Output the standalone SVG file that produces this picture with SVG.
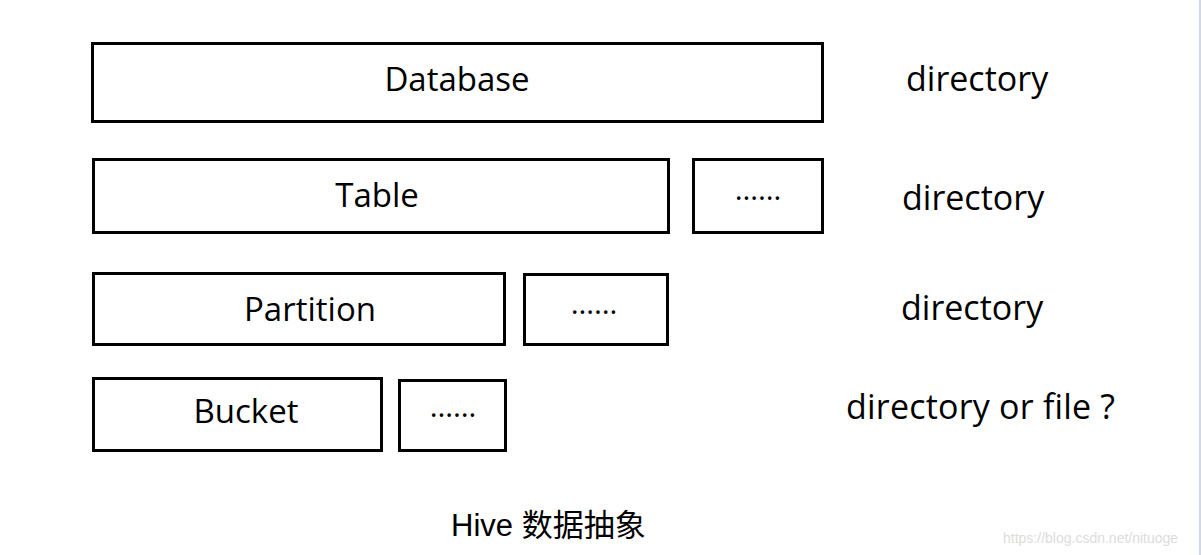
<svg xmlns="http://www.w3.org/2000/svg" width="1201" height="555" viewBox="0 0 1201 555">
<style>
.box{fill:#fff;stroke:#000;stroke-width:3}
.t{font-family:"Open Sans","Noto Sans",sans-serif;font-size:33px;fill:#000;text-anchor:middle}
.d{font-family:"Open Sans","Noto Sans",sans-serif;font-size:34px;fill:#000}
.dots{font-family:"Open Sans","Noto Sans",sans-serif;font-size:30px;fill:#000;text-anchor:middle}
</style>
<rect x="0" y="0" width="1201" height="555" fill="#fff"/>
<line x1="1200" y1="0" x2="1200" y2="555" stroke="#a3b1c4" stroke-width="1"/>
<g id="connectors"></g>
<g id="database"><rect class="box" x="92.5" y="43.5" width="730" height="78"/><text class="t" x="457" y="91">Database</text></g>
<g id="table"><rect class="box" x="93.5" y="159.5" width="575" height="73"/><text class="t" x="377" y="207">Table</text></g>
<g id="table-more"><rect class="box" x="693.5" y="159.5" width="129" height="73"/><text class="dots" x="758" y="200">……</text></g>
<g id="partition"><rect class="box" x="93.5" y="273.5" width="411" height="71"/><text class="t" x="310" y="321">Partition</text></g>
<g id="partition-more"><rect class="box" x="524.5" y="274.5" width="143" height="70"/><text class="dots" x="594" y="314">……</text></g>
<g id="bucket"><rect class="box" x="93.5" y="378.5" width="288" height="72"/><text class="t" x="246" y="423">Bucket</text></g>
<g id="bucket-more"><rect class="box" x="399.5" y="380.5" width="106" height="70"/><text class="dots" x="453" y="417">……</text></g>
<g id="labels">
<text class="d" x="906" y="91">directory</text>
<text class="d" x="902" y="210">directory</text>
<text class="d" x="901" y="320">directory</text>
<text class="d" x="846" y="419" textLength="269">directory or file ?</text>
</g>
<text x="451" y="536" font-family="'Liberation Sans','Noto Sans CJK SC',sans-serif" font-size="31" fill="#000">Hive 数据抽象</text>
<text x="1003" y="543" font-family="'Liberation Sans',sans-serif" font-size="14" fill="#dcdcdc">https://blog.csdn.net/nituoge</text>
</svg>
